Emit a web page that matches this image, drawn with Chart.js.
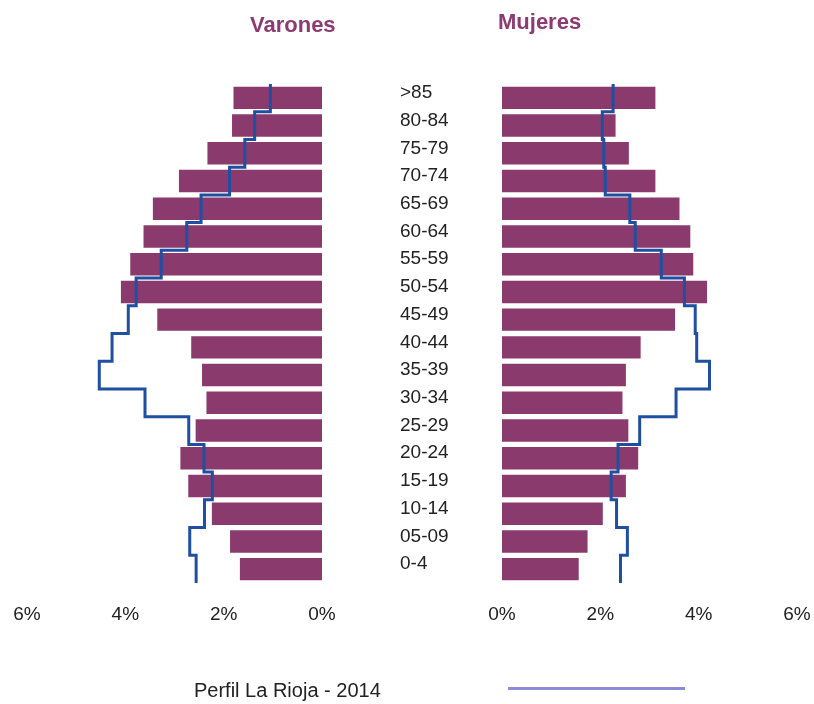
<!DOCTYPE html>
<html>
<head>
<meta charset="utf-8">
<script src="https://cdn.jsdelivr.net/npm/chart.js@4"></script>
<style>
  html, body { margin: 0; padding: 0; background: #fff; }
  #wrap { position: relative; width: 814px; height: 704px; overflow: hidden; font-family: "Liberation Sans", Arial, sans-serif; }
  #cLeft { position: absolute; left: 0; top: 0; }
  #cRight { position: absolute; left: 470px; top: 0; }
  .title { position: absolute; font-weight: bold; font-size: 22px; color: #8B3A72; white-space: nowrap; }
  #legText { position: absolute; left: 194px; top: 679px; font-size: 20px; color: #222; white-space: nowrap; }
  #legLine { position: absolute; left: 508px; top: 687px; width: 177px; height: 3px; background: #8E8ADA; }
</style>
</head>
<body>
<div id="wrap">
  <canvas id="cLeft" width="502" height="704"></canvas>
  <canvas id="cRight" width="344" height="704"></canvas>
  <div class="title" style="left:250px; top:12px;">Varones</div>
  <div class="title" style="left:498px; top:9px;">Mujeres</div>
  <div id="legText">Perfil La Rioja - 2014</div>
  <div id="legLine"></div>
</div>
<script>
const categories = ['>85','80-84','75-79','70-74','65-69','60-64','55-59','50-54','45-49','40-44','35-39','30-34','25-29','20-24','15-19','10-14','05-09','0-4'];
const varones = [1.80,1.83,2.33,2.91,3.44,3.63,3.90,4.09,3.35,2.66,2.44,2.35,2.57,2.88,2.72,2.24,1.87,1.67];
const mujeres = [3.12,2.31,2.58,3.12,3.61,3.83,3.89,4.17,3.52,2.82,2.52,2.45,2.57,2.77,2.52,2.05,1.74,1.56];
const perfilVarones = [1.05,1.37,1.57,1.88,2.46,2.75,3.27,3.78,3.94,4.27,4.53,3.60,2.71,2.40,2.23,2.39,2.69,2.56];
const perfilMujeres = [2.26,2.04,2.07,2.10,2.60,2.71,3.24,3.71,3.93,3.96,4.22,3.54,2.80,2.36,2.22,2.33,2.55,2.41];
const xTicks = [0, 2, 4, 6];

const barColor = '#8B3A6E';
const lineColor = '#1F4FA0';
const FONT = "'Liberation Sans', Arial, sans-serif";

function barPoints(values) {
  return values.map((v, i) => ({x: v, y: i}));
}
function stepPoints(values) {
  // each age group drawn as a vertical segment spanning its band
  return values.flatMap((v, i) => [{x: v, y: i - 0.5}, {x: v, y: i + 0.5}]);
}

function makeChart(canvasId, barData, lineData, left) {
  return new Chart(document.getElementById(canvasId), {
    type: 'bar',
    data: {
      datasets: [
        {
          type: 'line',
          data: stepPoints(lineData),
          borderColor: lineColor,
          borderWidth: 3,
          pointRadius: 0,
          fill: false,
          tension: 0,
          order: 0
        },
        {
          type: 'bar',
          data: barPoints(barData),
          backgroundColor: barColor,
          borderWidth: 0,
          grouped: false,
          barPercentage: 0.81,
          categoryPercentage: 1.0,
          order: 1
        }
      ]
    },
    options: {
      indexAxis: 'y',
      responsive: false,
      animation: false,
      events: [],
      layout: {
        padding: left ? {left: 27, right: 0, top: 84, bottom: 81}
                       : {left: 32, right: 17, top: 84, bottom: 81}
      },
      plugins: { legend: { display: false }, tooltip: { enabled: false }, title: { display: false } },
      scales: {
        x: {
          type: 'linear',
          reverse: left,
          min: 0,
          max: 6,
          offset: false,
          afterBuildTicks: (axis) => { axis.ticks = xTicks.map(v => ({value: v})); },
          afterFit: (axis) => { axis.height = 40; axis.paddingLeft = 0; axis.paddingRight = 0; },
          grid: { display: false, drawTicks: false },
          border: { display: false },
          ticks: {
            padding: 20,
            color: '#222',
            font: { family: FONT, size: 19 },
            callback: (v) => v + '%'
          }
        },
        y: {
          type: 'linear',
          display: left,
          position: 'right',
          offset: false,
          reverse: true,
          min: -0.5,
          max: categories.length - 0.5,
          afterBuildTicks: (axis) => { axis.ticks = categories.map((c, i) => ({value: i})); },
          afterFit: (axis) => {
            if (left) axis.width = 180;
            axis.paddingTop = 0;
            axis.paddingBottom = 0;
          },
          grid: { display: false, drawTicks: false },
          border: { display: false },
          ticks: {
            crossAlign: 'near',
            padding: 78,
            labelOffset: -5,
            color: '#222',
            font: { family: FONT, size: 19 },
            callback: (v) => categories[v]
          }
        }
      }
    }
  });
}

makeChart('cLeft', varones, perfilVarones, true);
makeChart('cRight', mujeres, perfilMujeres, false);
</script>
</body>
</html>
